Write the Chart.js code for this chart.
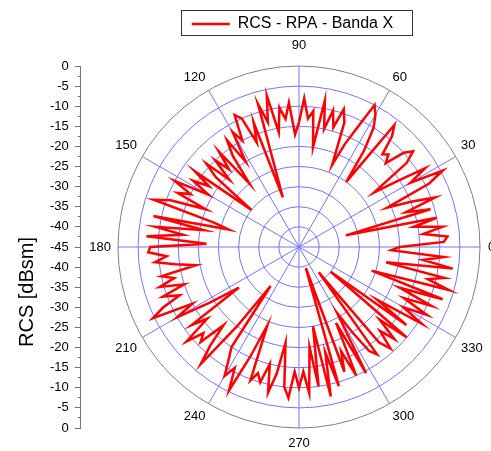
<!DOCTYPE html>
<html>
<head>
<meta charset="utf-8">
<script src="https://cdn.jsdelivr.net/npm/chart.js@4.4.1/dist/chart.umd.min.js"></script>
<style>
  html, body { margin: 0; padding: 0; background: #fff; overflow: hidden; }
  /* the original plot runs past the right edge of the picture: canvas is a bit wider than the window */
  canvas { display: block; }
</style>
</head>
<body>
<canvas id="rcsChart" width="504" height="451"></canvas>
<script>
// measured aspect angles, one sample every 2 degrees (0 = right, counter-clockwise)
const angles = Array.from({ length: 180 }, (_, i) => i * 2);

// RCS [dBsm], same order as angles
const rcsDb = [
  -20, -9, -8, -14, -9, -16, -10, -33, -11, -17,      // 0-18
  -9, -15, -21, -9, -4.5, -13, -8, -16, -22, -11,     // 20-38
  -8, -10, -15, -13, -14, -9, -6.5, -25, -16, -10,    // 40-58
  -7, -5, -12, -17, -23, -12, -9, -14, -10, -15,      // 60-78
  -8, -20, -11, -13, -8, -14, -17, -9, -13, -10,      // 80-98
  -16, -6.5, -13, -8, -32, -12, -17, -10, -8.5, -15,  // 100-118
  -12, -20, -13, -17, -25, -14, -19, -15, -21, -14,   // 120-138
  -18, -30, -13, -18, -14, -19, -10, -15, -12, -20,   // 140-158
  -11, -7, -23, -27, -8, -21, -9, -16, -7, -22,       // 160-178
  -8, -7.5, -12, -9, -14, -19, -10, -13, -9, -15,     // 180-198
  -9, -13, -8, -4.6, -15, -10, -19, -27, -12, -16,    // 200-218
  -8.5, -13, -11, -18, -12, -7, -20, -33, -15, -12,   // 220-238
  -8, -11, -5.3, -15, -24, -9.7, -12, -10, -15, -8,   // 240-258
  -13, -21, -10, -7.4, -14, -10, -14, -8.6, -20, -10, // 260-278
  -25, -7, -18, -9, -39.5, -12, -17, -10, -24, -9.5,  // 280-298
  -26, -20, -13.8, -12, -37, -14, -11, -16, -12, -18, // 300-318
  -10, -35, -12, -21.5, -9, -15, -9, -16, -9, -18,    // 320-338
  -7, -26, -6.2, -12, -8, -23, -6.4, -14, -9, -22     // 340-358
];

// labelled directions on the polar grid
const angleLabels = [0, 30, 60, 90, 120, 150, 180, 210, 240, 270, 300, 330];

// radial range (dBsm): centre to outer ring
const rMin = -45;
const rMax = 0;

const gridBlue = '#7474ff';
const axisGrey = '#808080';

// radar walks clockwise, the plot runs counter-clockwise: reorder
const radarLabels = angles.map((a, i) => angles[(angles.length - i) % angles.length]);
const radarValues = radarLabels.map(a => rcsDb[angles.indexOf(a)]);

// left axes must not pad the chart area top/bottom
const noEdgePadding = s => { s.paddingTop = 0; s.paddingBottom = 0; };

// left axis and its title follow the polar circle computed by Chart.js
const alignLeftAxis = {
  id: 'alignLeftAxis',
  afterLayout(chart) {
    const r = chart.scales.r;
    const y = chart.scales.y;
    const t = chart.scales.yTitle;
    const top = r.yCenter - r.drawingArea;
    const bottom = r.yCenter + r.drawingArea;
    y.top = top;
    y.bottom = bottom;
    y.height = bottom - top;
    y.configure();
    // title sits a bit below the middle in the original
    t.top = top + 45;
    t.bottom = bottom + 45;
    t.height = bottom - top;
    t.configure();
  }
};

// thin frame round the legend
const legendFrame = {
  id: 'legendFrame',
  afterDraw(chart) {
    const box = chart.legend.legendHitBoxes[0];
    if (!box) return;
    const c = chart.ctx;
    c.save();
    c.strokeStyle = '#333';
    c.lineWidth = 1;
    c.strokeRect(Math.round(box.left - 11) + 0.5, Math.round(box.top - 6) + 0.5,
      Math.round(box.width + 30), Math.round(box.height + 9));
    c.restore();
  }
};

Chart.defaults.font.family = "'Liberation Sans', Arial, sans-serif";
Chart.defaults.color = '#000';

const ctx = document.getElementById('rcsChart').getContext('2d');
new Chart(ctx, {
  type: 'radar',
  data: {
    labels: radarLabels,
    datasets: [{
      label: 'RCS - RPA - Banda X',
      data: radarValues,
      borderColor: '#ff0000',
      backgroundColor: '#ff0000',
      borderWidth: 2.5,
      pointRadius: 0,
      pointHoverRadius: 0,
      fill: false,
      tension: 0
    }]
  },
  options: {
    responsive: false,
    animation: false,
    devicePixelRatio: 1,
    layout: { padding: { left: 7, right: 0, top: 8, bottom: 5 } },
    plugins: {
      legend: {
        position: 'top',
        fullSize: false,
        labels: {
          usePointStyle: true,
          pointStyle: 'line',
          pointStyleWidth: 38,
          padding: 8,
          color: '#000',
          font: { size: 16 }
        }
      },
      tooltip: { enabled: false }
    },
    scales: {
      r: {
        min: rMin,
        max: rMax,
        startAngle: 90,
        ticks: { display: false, stepSize: 5 },
        grid: {
          circular: true,
          color: c => c.tick.value === rMax ? axisGrey : gridBlue,
          lineWidth: 1
        },
        angleLines: {
          color: gridBlue,
          lineWidth: c => c.label === '' ? 0 : 1
        },
        pointLabels: {
          callback: label => angleLabels.includes(label) ? String(label) : '',
          color: '#000',
          font: c => ({
            size: 13,
            lineHeight: (c.label === '' || c.label === '90' || c.label === '270') ? 0 : 1.2
          }),
          padding: c => {
            const pads = { '90': 21, '270': 15, '180': 7, '0': 8, '': 0 };
            return c.label in pads ? pads[c.label] : 6;
          }
        }
      },
      y: {
        type: 'linear',
        position: 'left',
        min: -45,
        max: 45,
        afterFit: noEdgePadding,
        ticks: {
          stepSize: 2.5,
          autoSkip: false,
          padding: 6,
          color: '#000',
          font: { size: 13 },
          callback: v => v % 5 === 0 ? String(Math.abs(v) - 45) : ''
        },
        grid: {
          drawOnChartArea: false,
          drawTicks: true,
          tickLength: 6,
          tickColor: '#777',
          color: '#777',
          // minor ticks: only the half next to the axis line
          tickBorderDash: c => (c.tick && c.tick.value % 5 !== 0) ? [0, 3, 3, 10] : []
        },
        border: { color: '#777', width: 1 }
      },
      yTitle: {
        type: 'linear',
        position: 'left',
        weight: 1,
        min: 0,
        max: 1,
        afterFit: noEdgePadding,
        ticks: { display: false },
        grid: { display: false, drawTicks: false },
        border: { display: false },
        title: {
          display: true,
          text: 'RCS [dBsm]',
          color: '#000',
          font: { size: 20 },
          padding: { top: 8, bottom: 5 }
        }
      }
    }
  },
  plugins: [alignLeftAxis, legendFrame]
});
</script>
</body>
</html>
